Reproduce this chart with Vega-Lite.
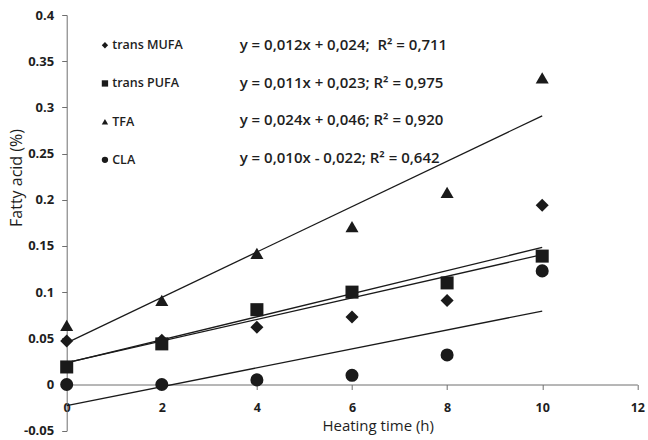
{
  "$schema": "https://vega.github.io/schema/vega-lite/v6.json",
  "autosize": {"type": "none"},
  "width": 570.6,
  "height": 415.7,
  "padding": {"left": 66.7, "top": 15, "right": 10.7, "bottom": 9.3},
  "background": "white",
  "config": {
    "view": {"stroke": null},
    "font": "Open Sans",
    "axis": {"grid": false, "domainColor": "#6e6e6e", "tickColor": "#6e6e6e", "labelColor": "#1e1e1e", "titleColor": "#1e1e1e", "labelFont": "Open Sans", "titleFont": "Open Sans"}
  },
  "data": {
    "values": [
      {"series": "trans MUFA", "eq": "y = 0,012x + 0,024;\u00a0 R² = 0,711", "time": 0, "value": 0.047},
      {"series": "trans MUFA", "eq": "y = 0,012x + 0,024;\u00a0 R² = 0,711", "time": 2, "value": 0.048},
      {"series": "trans MUFA", "eq": "y = 0,012x + 0,024;\u00a0 R² = 0,711", "time": 4, "value": 0.062},
      {"series": "trans MUFA", "eq": "y = 0,012x + 0,024;\u00a0 R² = 0,711", "time": 6, "value": 0.073},
      {"series": "trans MUFA", "eq": "y = 0,012x + 0,024;\u00a0 R² = 0,711", "time": 8, "value": 0.091},
      {"series": "trans MUFA", "eq": "y = 0,012x + 0,024;\u00a0 R² = 0,711", "time": 10, "value": 0.194},
      {"series": "trans PUFA", "eq": "\u00a0y = 0,011x + 0,023; R² = 0,975", "time": 0, "value": 0.019},
      {"series": "trans PUFA", "eq": "\u00a0y = 0,011x + 0,023; R² = 0,975", "time": 2, "value": 0.044},
      {"series": "trans PUFA", "eq": "\u00a0y = 0,011x + 0,023; R² = 0,975", "time": 4, "value": 0.081},
      {"series": "trans PUFA", "eq": "\u00a0y = 0,011x + 0,023; R² = 0,975", "time": 6, "value": 0.100},
      {"series": "trans PUFA", "eq": "\u00a0y = 0,011x + 0,023; R² = 0,975", "time": 8, "value": 0.110},
      {"series": "trans PUFA", "eq": "\u00a0y = 0,011x + 0,023; R² = 0,975", "time": 10, "value": 0.139},
      {"series": "TFA", "eq": "y = 0,024x + 0,046; R² = 0,920", "time": 0, "value": 0.064},
      {"series": "TFA", "eq": "y = 0,024x + 0,046; R² = 0,920", "time": 2, "value": 0.091},
      {"series": "TFA", "eq": "y = 0,024x + 0,046; R² = 0,920", "time": 4, "value": 0.142},
      {"series": "TFA", "eq": "y = 0,024x + 0,046; R² = 0,920", "time": 6, "value": 0.171},
      {"series": "TFA", "eq": "y = 0,024x + 0,046; R² = 0,920", "time": 8, "value": 0.208},
      {"series": "TFA", "eq": "y = 0,024x + 0,046; R² = 0,920", "time": 10, "value": 0.332},
      {"series": "CLA", "eq": "y = 0,010x - 0,022; R² = 0,642", "time": 0, "value": 0.0},
      {"series": "CLA", "eq": "y = 0,010x - 0,022; R² = 0,642", "time": 2, "value": 0.0},
      {"series": "CLA", "eq": "y = 0,010x - 0,022; R² = 0,642", "time": 4, "value": 0.005},
      {"series": "CLA", "eq": "y = 0,010x - 0,022; R² = 0,642", "time": 6, "value": 0.010},
      {"series": "CLA", "eq": "y = 0,010x - 0,022; R² = 0,642", "time": 8, "value": 0.032},
      {"series": "CLA", "eq": "y = 0,010x - 0,022; R² = 0,642", "time": 10, "value": 0.123}
    ]
  },
  "encoding": {
    "x": {
      "field": "time", "type": "quantitative",
      "scale": {"domain": [0, 12], "nice": false, "zero": false},
      "axis": {
        "title": "Heating time (h)", "values": [0, 2, 4, 6, 8, 10, 12], "format": "d",
        "offset": -46.2, "tickSize": 5, "labelPadding": 12, "labelFontSize": 12.5, "labelFontWeight": "bold",
        "titleFontSize": 15, "titleFontWeight": "normal", "titleX": 311, "titlePadding": 4, "labelFlush": false
      }
    },
    "y": {
      "field": "value", "type": "quantitative",
      "scale": {"domain": [-0.05, 0.4], "nice": false, "zero": false},
      "axis": {
        "title": "Fatty acid (%)", "values": [-0.05, 0, 0.05, 0.1, 0.15, 0.2, 0.25, 0.3, 0.35, 0.4],
        "labelExpr": "replace(format(datum.value, '.2~f'), '\u2212', '-')",
        "tickSize": 5, "labelPadding": 8, "labelFontSize": 13, "labelFontWeight": "bold",
        "titleFontSize": 16, "titleFontWeight": "normal", "titleX": -50, "titleY": 162.5, "titleBaseline": "middle"
      }
    }
  },
  "layer": [
    {
      "transform": [{"regression": "value", "on": "time", "groupby": ["series", "eq"]}],
      "mark": {"type": "line", "strokeWidth": 1.3},
      "encoding": {
        "detail": {"field": "series"},
        "color": {
          "field": "eq", "type": "nominal",
          "scale": {
            "domain": ["y = 0,012x + 0,024;\u00a0 R² = 0,711", "\u00a0y = 0,011x + 0,023; R² = 0,975", "y = 0,024x + 0,046; R² = 0,920", "y = 0,010x - 0,022; R² = 0,642"],
            "range": ["#1a1a1a", "#1a1a1a", "#1a1a1a", "#1a1a1a"]
          },
          "legend": {
            "title": null, "orient": "none", "legendX": 158, "legendY": 22.5, "padding": 0,
            "symbolType": "circle", "symbolSize": 1, "symbolOpacity": 0, "symbolStrokeWidth": 0,
            "labelOffset": 0, "labelFontSize": 15, "labelFontWeight": 600, "labelColor": "#1e1e1e",
            "labelFont": "Open Sans", "rowPadding": 21.5, "labelLimit": 400
          }
        }
      }
    },
    {
      "mark": {"type": "point", "filled": true, "size": 170, "color": "#1a1a1a", "opacity": 1},
      "encoding": {
        "shape": {
          "field": "series", "type": "nominal",
          "scale": {"domain": ["trans MUFA", "trans PUFA", "TFA", "CLA"], "range": ["diamond", "square", "triangle-up", "circle"]},
          "legend": {
            "title": null, "orient": "none", "legendX": 32, "legendY": 24, "padding": 0,
            "symbolSize": 40, "symbolFillColor": "#1a1a1a", "symbolStrokeWidth": 0,
            "labelOffset": 1, "labelFontSize": 12.5, "labelFontWeight": 600, "labelColor": "#1e1e1e",
            "labelFont": "Open Sans", "rowPadding": 25.2
          }
        }
      }
    }
  ]
}
